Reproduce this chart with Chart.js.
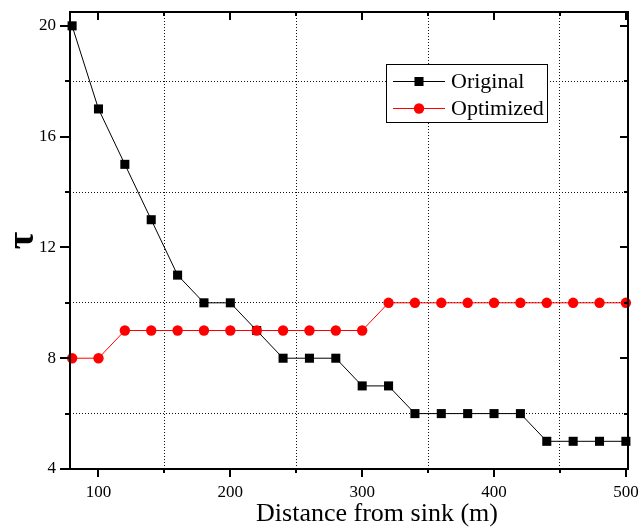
<!DOCTYPE html>
<html>
<head>
<meta charset="utf-8">
<script src="https://cdn.jsdelivr.net/npm/chart.js@4.4.1/dist/chart.umd.min.js"></script>
<style>
    html, body { margin: 0; padding: 0; background: #fff; }
</style>
</head>
<body>
<canvas id="chartTau" width="641" height="528"></canvas>
<script>
// data
const distances = [80, 100, 120, 140, 160, 180, 200, 220, 240, 260, 280, 300, 320, 340, 360, 380, 400, 420, 440, 460, 480, 500];
const originalTau = [20, 17, 15, 13, 11, 10, 10, 9, 8, 8, 8, 7, 7, 6, 6, 6, 6, 6, 5, 5, 5, 5];
const optimizedTau = [8, 8, 9, 9, 9, 9, 9, 9, 9, 9, 9, 9, 10, 10, 10, 10, 10, 10, 10, 10, 10, 10];
const xTicks = [100, 150, 200, 250, 300, 350, 400, 450, 500];
const yTicks = [4, 6, 8, 10, 12, 14, 16, 18, 20];
const xTitle = "Distance from sink (m)";

const serif = "'Liberation Serif', 'Times New Roman', serif";
const chartTau = document.getElementById("chartTau");

const toPoints = (xs, ys) => xs.map((x, i) => ({ x: x, y: ys[i] }));
const isMajorX = v => v % 100 === 0;
const isMajorY = v => v % 4 === 0;

// frame, tick marks, x title and legend box
const framePlugin = {
    id: "frame",
    afterDraw(chart) {
        const { ctx, chartArea: a, scales } = chart;
        const xs = scales.x, ys = scales.y;
        ctx.save();
        ctx.strokeStyle = "#000";
        ctx.lineWidth = 2;
        ctx.strokeRect(a.left, a.top, a.right - a.left, a.bottom - a.top);

        ctx.beginPath();
        xTicks.forEach(v => {
            const px = Math.round(xs.getPixelForValue(v));
            const len = isMajorX(v) ? 8 : 4;
            ctx.moveTo(px, a.bottom); ctx.lineTo(px, a.bottom + len);
            ctx.moveTo(px, a.top); ctx.lineTo(px, a.top + len);
        });
        yTicks.forEach(v => {
            const py = Math.round(ys.getPixelForValue(v));
            const outLen = isMajorY(v) ? 10 : 5;
            const inLen = isMajorY(v) ? 8 : 4;
            ctx.moveTo(a.left - outLen, py); ctx.lineTo(a.left, py);
            ctx.moveTo(a.right, py); ctx.lineTo(a.right - inLen, py);
        });
        ctx.stroke();

        // x axis title (sits a bit right of centre in the original)
        ctx.fillStyle = "#000";
        ctx.font = "26px " + serif;
        ctx.textAlign = "center";
        ctx.textBaseline = "alphabetic";
        ctx.fillText(xTitle, (a.left + a.right) / 2 + 28, 521);

        // legend
        const box = { x: 386.5, y: 64.5, w: 161, h: 58 };
        ctx.fillStyle = "#fff";
        ctx.fillRect(box.x, box.y, box.w, box.h);
        ctx.lineWidth = 1;
        ctx.strokeRect(box.x, box.y, box.w, box.h);
        ctx.font = "22px " + serif;
        ctx.textAlign = "left";
        ctx.textBaseline = "middle";
        chart.data.datasets.forEach((ds, i) => {
            const cy = 81 + i * 27;
            ctx.strokeStyle = ds.borderColor;
            ctx.lineWidth = 1;
            ctx.beginPath();
            ctx.moveTo(393, cy + 0.5); ctx.lineTo(445, cy + 0.5);
            ctx.stroke();
            ctx.fillStyle = ds.pointBackgroundColor;
            Chart.helpers.drawPoint(ctx, { pointStyle: ds.pointStyle, radius: ds.pointRadius, borderWidth: 0, rotation: 0 }, 419, cy + 0.5);
            ctx.fillStyle = "#000";
            ctx.fillText(ds.label, 451, cy + 1);
        });
        ctx.restore();
    }
};

new Chart(chartTau, {
    type: "line",
    data: {
        datasets: [
            {
                label: "Original",
                data: toPoints(distances, originalTau),
                borderColor: "#000000",
                borderWidth: 1,
                pointStyle: "rect",
                pointRadius: 6.4,
                pointBackgroundColor: "#000000",
                pointBorderWidth: 0,
                order: 1,
                clip: false,
            },
            {
                label: "Optimized",
                data: toPoints(distances, optimizedTau),
                borderColor: "#ff0000",
                borderWidth: 1,
                pointStyle: "circle",
                pointRadius: 5.2,
                pointBackgroundColor: "#ff0000",
                pointBorderWidth: 0,
                order: 0,
                clip: false,
            }
        ]
    },
    options: {
        responsive: false,
        animation: false,
        devicePixelRatio: 1,
        layout: { padding: { top: 12, right: 13, left: 0, bottom: 0 } },
        plugins: { legend: { display: false }, tooltip: { enabled: false } },
        scales: {
            x: {
                type: "linear",
                min: 78.4,
                max: 501.6,
                afterBuildTicks: s => { s.ticks = xTicks.map(v => ({ value: v })); },
                afterFit: s => { s.height = 59; s.paddingLeft = 0; s.paddingRight = 0; },
                ticks: {
                    callback: v => isMajorX(v) ? String(v) : "",
                    font: { family: serif, size: 17 },
                    color: "#000",
                    padding: 13,
                    maxRotation: 0,
                    autoSkip: false,
                },
                grid: {
                    drawTicks: false,
                    lineWidth: 1,
                    color: c => (c.tick && !isMajorX(c.tick.value)) ? "#111" : "rgba(0,0,0,0)",
                },
                border: { display: false, dash: [1, 2] },
                title: { display: false },
            },
            y: {
                min: 4,
                max: 20.5,
                afterBuildTicks: s => { s.ticks = yTicks.map(v => ({ value: v })); },
                afterFit: s => { s.width = 70; s.paddingTop = 0; s.paddingBottom = 0; },
                ticks: {
                    callback: v => isMajorY(v) ? String(v) : "",
                    font: { family: serif, size: 17 },
                    color: "#000",
                    padding: 14,
                    autoSkip: false,
                },
                grid: {
                    drawTicks: false,
                    lineWidth: 1,
                    color: c => (c.tick && !isMajorY(c.tick.value)) ? "#111" : "rgba(0,0,0,0)",
                },
                border: { display: false, dash: [1, 2] },
                title: {
                    display: true,
                    text: "τ",
                    color: "#000",
                    font: { family: serif, size: 38, weight: "bold" },
                    padding: { top: 0, bottom: 0 },
                },
            }
        }
    },
    plugins: [framePlugin]
});
</script>
</body>
</html>
